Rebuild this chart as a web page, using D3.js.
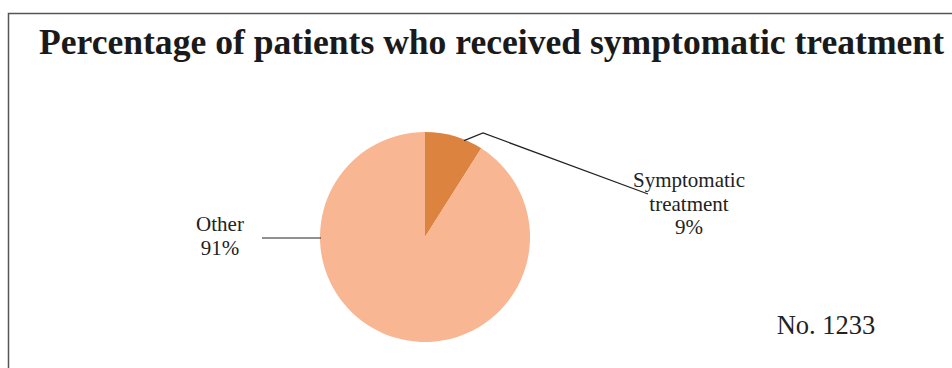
<!DOCTYPE html>
<html>
<head>
<meta charset="utf-8">
<script src="https://cdn.jsdelivr.net/npm/d3@7"></script>
<style>
  html, body { margin: 0; padding: 0; background: #fff; }
  svg { display: block; }
</style>
</head>
<body>
<svg id="chart" width="952" height="368"></svg>
<script>
// Share of patients by treatment type
const categories = ["Symptomatic treatment", "Other"];
const percentages = [9, 91];
const labelLines = [["Symptomatic", "treatment", "9%"], ["Other", "91%"]];
const sliceColors = ["#DC843F", "#F8B692"];
const titleText = "Percentage of patients who received symptomatic treatment";
const noteText = "No. 1233";

const svg = d3.select("#chart");
const serif = "'Liberation Serif', 'Times New Roman', serif";

// frame
svg.append("path")
  .attr("d", "M8.5,372 V13.5 H956")
  .attr("fill", "none")
  .attr("stroke", "#555")
  .attr("stroke-width", 1.5);

// title
svg.append("text")
  .attr("x", 491.5).attr("y", 54)
  .attr("text-anchor", "middle")
  .attr("font-family", serif)
  .attr("font-weight", "bold")
  .attr("font-size", 35.6)
  .attr("fill", "#1a1a1a")
  .text(titleText);

const cx = 425, cy = 237, r = 105;
const g = svg.append("g").attr("transform", `translate(${cx},${cy})`);

const pie = d3.pie().sort(null).value(d => d)(percentages);
const arc = d3.arc().innerRadius(0).outerRadius(r);

g.selectAll("path.slice")
  .data(pie)
  .join("path")
  .attr("class", "slice")
  .attr("d", arc)
  .attr("fill", (d, i) => sliceColors[i]);

// leader lines
const onArc = (a, rr) => [rr * Math.sin(a), -rr * Math.cos(a)];

const s0 = pie[0];
const a0 = s0.startAngle + (s0.endAngle - s0.startAngle) * 0.68;
const p0 = onArc(a0, r - 1);
g.append("polyline")
  .attr("points", [p0, [58, -104], [223, -43]].map(p => p.join(",")).join(" "))
  .attr("fill", "none").attr("stroke", "#222").attr("stroke-width", 1.2);

const p1 = onArc(3 * Math.PI / 2, r - 1);
g.append("line")
  .attr("x1", p1[0]).attr("y1", 1)
  .attr("x2", -163).attr("y2", 1)
  .attr("stroke", "#222").attr("stroke-width", 1.2);

// slice labels
const labelPos = [[689, 187], [220, 231]];
labelLines.forEach((lines, i) => {
  const t = svg.append("text")
    .attr("text-anchor", "middle")
    .attr("font-family", serif)
    .attr("font-size", 21)
    .attr("fill", "#222");
  lines.forEach((ln, j) => {
    t.append("tspan")
      .attr("x", labelPos[i][0])
      .attr("y", labelPos[i][1] + j * 23.5)
      .text(ln);
  });
});

// note
svg.append("text")
  .attr("x", 826).attr("y", 334)
  .attr("text-anchor", "middle")
  .attr("font-family", serif)
  .attr("font-size", 26.5)
  .attr("fill", "#222")
  .text(noteText);
</script>
</body>
</html>
